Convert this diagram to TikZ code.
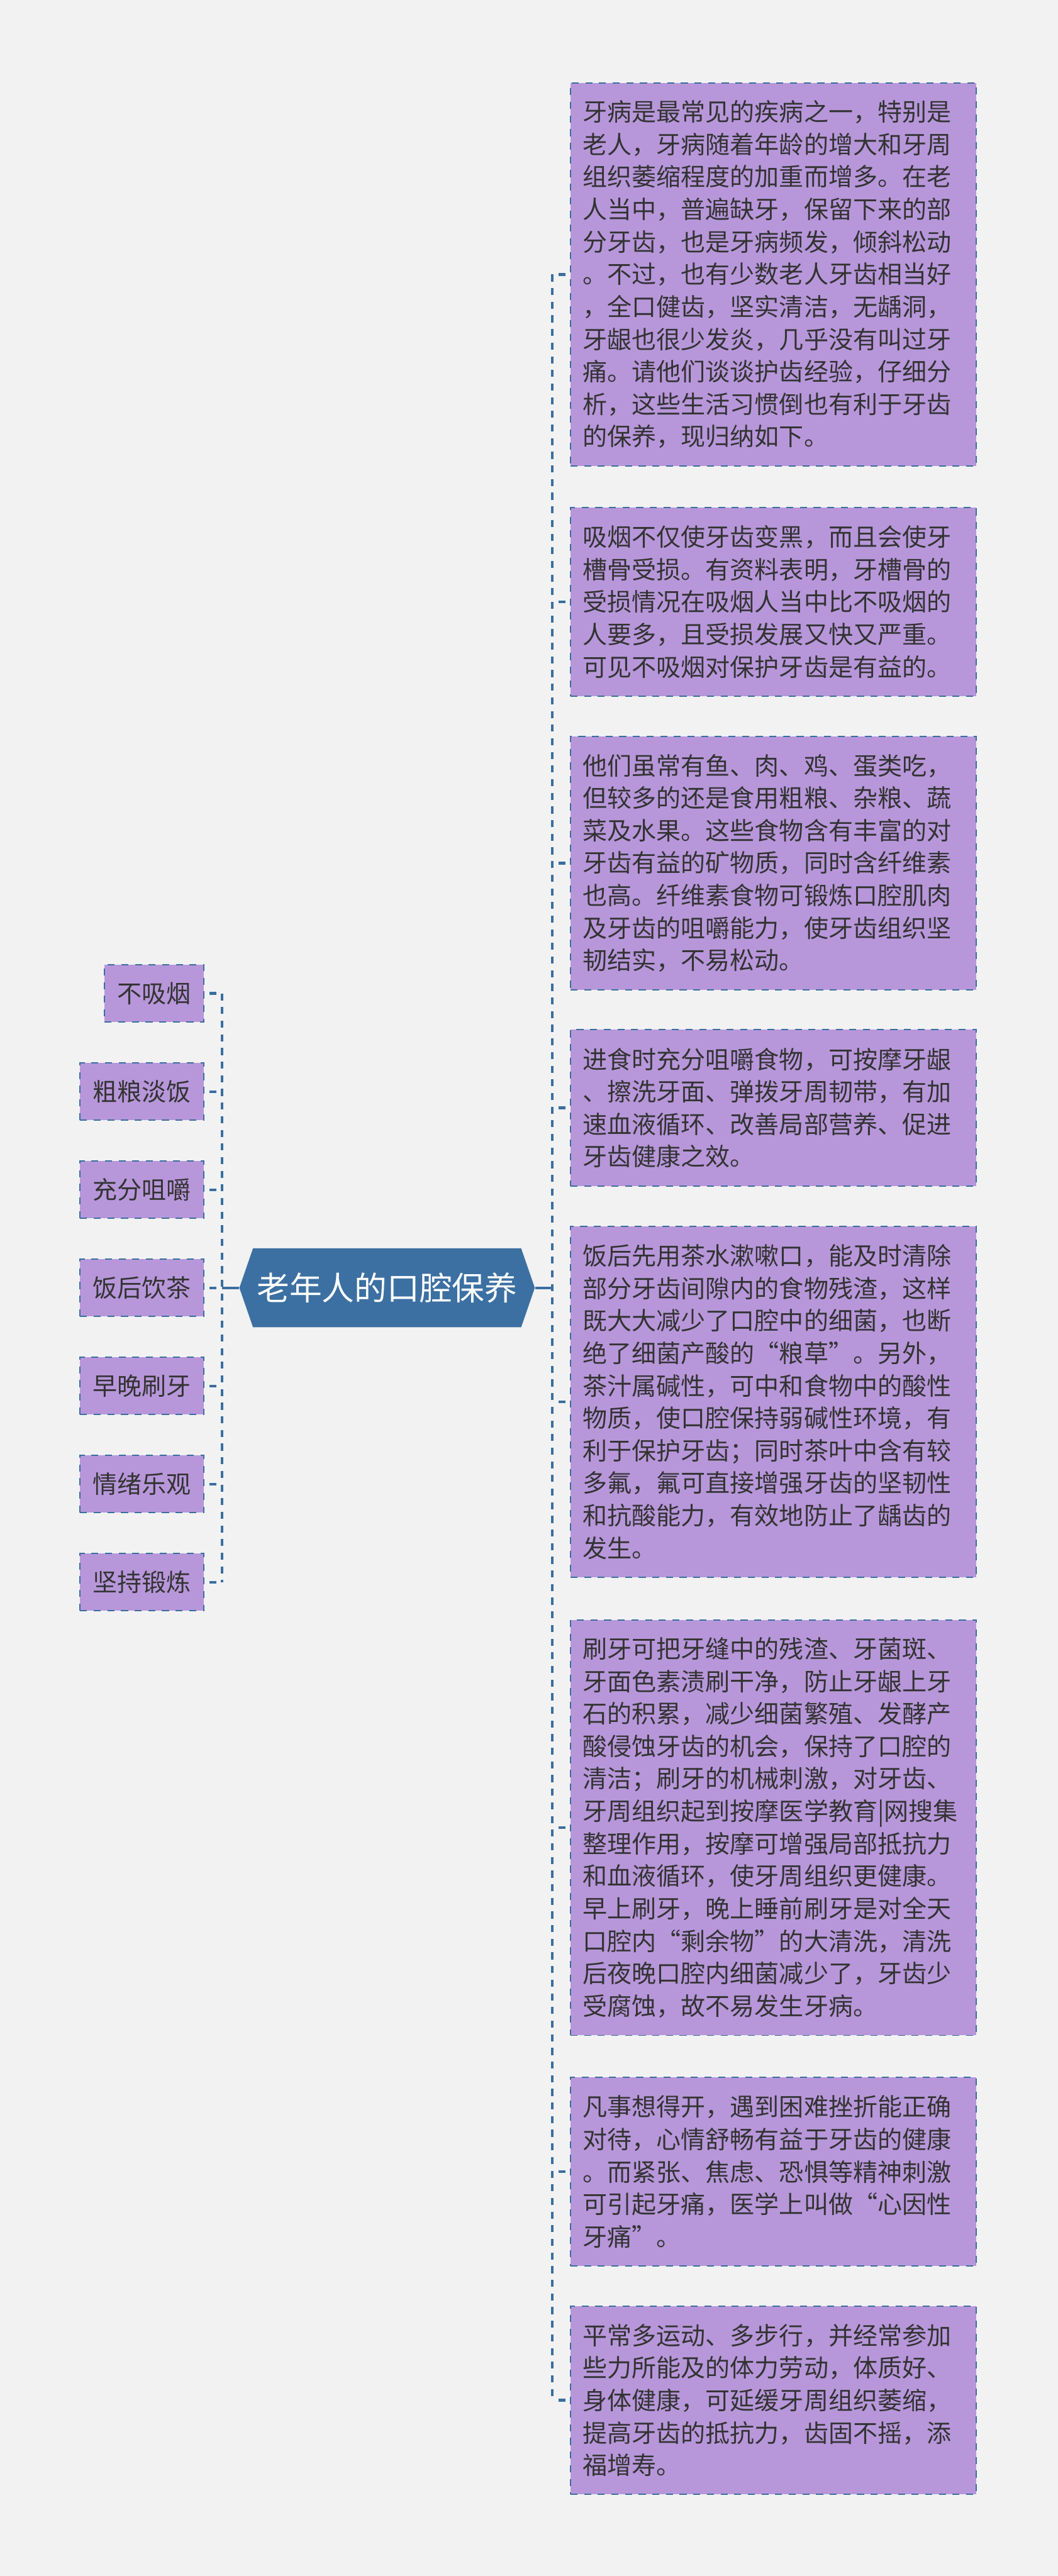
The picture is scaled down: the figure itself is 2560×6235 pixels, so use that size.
\documentclass[tikz,border=0pt]{standalone}
\usepackage{fontspec}
\setmainfont{Noto Sans CJK SC}
\usepackage{tikz}
\definecolor{bgcol}{HTML}{F2F2F2}
\definecolor{linkcol}{HTML}{3A6E9F}
\definecolor{rootcol}{HTML}{3C70A2}
\definecolor{leafcol}{HTML}{B797DA}
\definecolor{txtcol}{HTML}{333333}

\begin{document}
\begin{tikzpicture}[x=0.01cm, y=-0.01cm,
    leftbox/.style={rectangle, fill=leafcol, draw=linkcol, line width=0.03cm,
      dash pattern=on 0.17cm off 0.16cm, inner xsep=0.31cm, inner ysep=0pt,
      minimum height=1.38cm, anchor=east, text=txtcol,
      font=\fontsize{16.9pt}{22.34pt}\selectfont},
    rightbox/.style={rectangle, fill=leafcol, draw=linkcol, line width=0.03cm,
      dash pattern=on 0.17cm off 0.16cm, inner xsep=0.3cm, inner ysep=0pt,
      text width=9.22cm, align=left, anchor=north west, text=txtcol,
      font=\fontsize{16.9pt}{22.34pt}\selectfont},
    rootnode/.style={rectangle, fill=bgcol, inner sep=0pt,
      minimum width=7.145cm, minimum height=1.91cm, text=white,
      font=\fontsize{22.4pt}{26pt}\selectfont,
      path picture={\fill[rootcol]
        ([xshift=0.33cm]path picture bounding box.north west) --
        ([xshift=-0.33cm]path picture bounding box.north east) --
        (path picture bounding box.east) --
        ([xshift=-0.33cm]path picture bounding box.south east) --
        ([xshift=0.33cm]path picture bounding box.south west) --
        (path picture bounding box.west) -- cycle;}},
    linkline/.style={draw=linkcol, line width=0.065cm, dash pattern=on 0.17cm off 0.16cm},
    trunk/.style={draw=linkcol, line width=0.06cm}]

    \useasboundingbox (0,0) rectangle (2560,6235);
    \fill[bgcol] (0,0) rectangle (2560,6235);

    % root
    \node[rootnode] (root) at (936.75,3117) {老年人的口腔保养};
    \coordinate (lbar) at (537.5,3117);
    \coordinate (rbar) at (1336,3117);

    % left side
    \node[leftbox] (l1) at (495,2404.5) {不吸烟};
    \node[leftbox] (l2) at (495,2642) {粗粮淡饭};
    \node[leftbox] (l3) at (495,2879.5) {充分咀嚼};
    \node[leftbox] (l4) at (495,3117) {饭后饮茶};
    \node[leftbox] (l5) at (495,3354.5) {早晚刷牙};
    \node[leftbox] (l6) at (495,3592) {情绪乐观};
    \node[leftbox] (l7) at (495,3829.5) {坚持锻炼};

    % right side
    \node[rightbox, minimum height=9.27cm] (r1) at (1379,199) {牙病是最常见的疾病之一，特别是\\
      老人，牙病随着年龄的增大和牙周\\
      组织萎缩程度的加重而增多。在老\\
      人当中，普遍缺牙，保留下来的部\\
      分牙齿，也是牙病频发，倾斜松动\\
      。不过，也有少数老人牙齿相当好\\
      ，全口健齿，坚实清洁，无龋洞，\\
      牙龈也很少发炎，几乎没有叫过牙\\
      痛。请他们谈谈护齿经验，仔细分\\
      析，这些生活习惯倒也有利于牙齿\\
      的保养，现归纳如下。};
    \node[rightbox, minimum height=4.56cm] (r2) at (1379,1227) {吸烟不仅使牙齿变黑，而且会使牙\\
      槽骨受损。有资料表明，牙槽骨的\\
      受损情况在吸烟人当中比不吸烟的\\
      人要多，且受损发展又快又严重。\\
      可见不吸烟对保护牙齿是有益的。};
    \node[rightbox, minimum height=6.13cm] (r3) at (1379,1781) {他们虽常有鱼、肉、鸡、蛋类吃，\\
      但较多的还是食用粗粮、杂粮、蔬\\
      菜及水果。这些食物含有丰富的对\\
      牙齿有益的矿物质，同时含纤维素\\
      也高。纤维素食物可锻炼口腔肌肉\\
      及牙齿的咀嚼能力，使牙齿组织坚\\
      韧结实，不易松动。};
    \node[rightbox, minimum height=3.775cm] (r4) at (1379,2491) {进食时充分咀嚼食物，可按摩牙龈\\
      、擦洗牙面、弹拨牙周韧带，有加\\
      速血液循环、改善局部营养、促进\\
      牙齿健康之效。};
    \node[rightbox, minimum height=8.485cm] (r5) at (1379,2967) {饭后先用茶水漱嗽口，能及时清除\\
      部分牙齿间隙内的食物残渣，这样\\
      既大大减少了口腔中的细菌，也断\\
      绝了细菌产酸的“粮草”。另外，\\
      茶汁属碱性，可中和食物中的酸性\\
      物质，使口腔保持弱碱性环境，有\\
      利于保护牙齿；同时茶叶中含有较\\
      多氟，氟可直接增强牙齿的坚韧性\\
      和抗酸能力，有效地防止了龋齿的\\
      发生。};
    \node[rightbox, minimum height=10.055cm] (r6) at (1379,3919) {刷牙可把牙缝中的残渣、牙菌斑、\\
      牙面色素渍刷干净，防止牙龈上牙\\
      石的积累，减少细菌繁殖、发酵产\\
      酸侵蚀牙齿的机会，保持了口腔的\\
      清洁；刷牙的机械刺激，对牙齿、\\
      牙周组织起到按摩医学教育|网搜集\\
      整理作用，按摩可增强局部抵抗力\\
      和血液循环，使牙周组织更健康。\\
      早上刷牙，晚上睡前刷牙是对全天\\
      口腔内“剩余物”的大清洗，清洗\\
      后夜晚口腔内细菌减少了，牙齿少\\
      受腐蚀，故不易发生牙病。};
    \node[rightbox, minimum height=4.56cm] (r7) at (1379,5027) {凡事想得开，遇到困难挫折能正确\\
      对待，心情舒畅有益于牙齿的健康\\
      。而紧张、焦虑、恐惧等精神刺激\\
      可引起牙痛，医学上叫做“心因性\\
      牙痛”。};
    \node[rightbox, minimum height=4.56cm] (r8) at (1379,5580) {平常多运动、多步行，并经常参加\\
      些力所能及的体力劳动，体质好、\\
      身体健康，可延缓牙周组织萎缩，\\
      提高牙齿的抵抗力，齿固不摇，添\\
      福增寿。};

    % connectors
    \draw[trunk] (root.west) -- (lbar);
    \draw[trunk] (root.east) -- (rbar);
    \draw[linkline] (l1.east -| lbar) -- (l7.east -| lbar);
    \draw[linkline] (r1.west -| rbar) -- (r8.west -| rbar);
    \draw[linkline, dash phase=0.21cm] (l1.east) -- (l1.east -| lbar);
    \draw[linkline, dash phase=0.21cm] (l2.east) -- (l2.east -| lbar);
    \draw[linkline, dash phase=0.21cm] (l3.east) -- (l3.east -| lbar);
    \draw[linkline, dash phase=0.21cm] (l4.east) -- (l4.east -| lbar);
    \draw[linkline, dash phase=0.21cm] (l5.east) -- (l5.east -| lbar);
    \draw[linkline, dash phase=0.21cm] (l6.east) -- (l6.east -| lbar);
    \draw[linkline, dash phase=0.21cm] (l7.east) -- (l7.east -| lbar);
    \draw[linkline, dash phase=0.17cm] (r1.west -| rbar) -- (r1.west);
    \draw[linkline, dash phase=0.17cm] (r2.west -| rbar) -- (r2.west);
    \draw[linkline, dash phase=0.17cm] (r3.west -| rbar) -- (r3.west);
    \draw[linkline, dash phase=0.17cm] (r4.west -| rbar) -- (r4.west);
    \draw[linkline, dash phase=0.17cm] (r5.west -| rbar) -- (r5.west);
    \draw[linkline, dash phase=0.17cm] (r6.west -| rbar) -- (r6.west);
    \draw[linkline, dash phase=0.17cm] (r7.west -| rbar) -- (r7.west);
    \draw[linkline, dash phase=0.17cm] (r8.west -| rbar) -- (r8.west);
\end{tikzpicture}
\end{document}
